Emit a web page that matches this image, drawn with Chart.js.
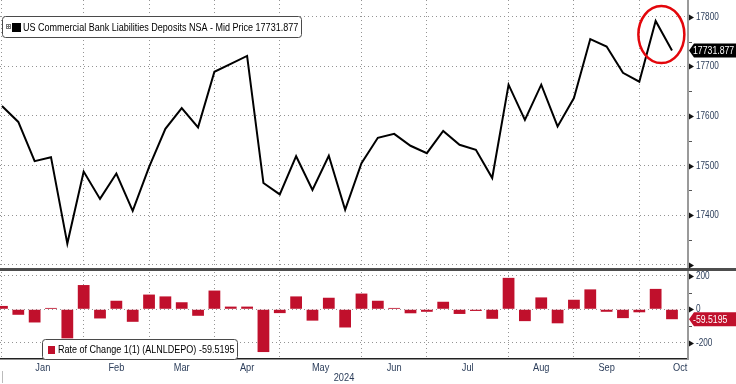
<!DOCTYPE html>
<html>
<head>
<meta charset="utf-8">
<script src="https://cdn.jsdelivr.net/npm/chart.js@4.4.1/dist/chart.umd.min.js"></script>
<style>
  html, body { margin: 0; padding: 0; background: #fff; }
  #wrap { position: relative; width: 736px; height: 384px; }
</style>
</head>
<body>
<div id="wrap"><canvas id="chart" width="736" height="384"></canvas></div>
<script>
// Weekly observations (Wednesdays), 2024
const weeks = [
  '2024-01-03', '2024-01-10', '2024-01-17', '2024-01-24', '2024-01-31',
  '2024-02-07', '2024-02-14', '2024-02-21', '2024-02-28',
  '2024-03-06', '2024-03-13', '2024-03-20', '2024-03-27',
  '2024-04-03', '2024-04-10', '2024-04-17', '2024-04-24',
  '2024-05-01', '2024-05-08', '2024-05-15', '2024-05-22', '2024-05-29',
  '2024-06-05', '2024-06-12', '2024-06-19', '2024-06-26',
  '2024-07-03', '2024-07-10', '2024-07-17', '2024-07-24', '2024-07-31',
  '2024-08-07', '2024-08-14', '2024-08-21', '2024-08-28',
  '2024-09-04', '2024-09-11', '2024-09-18', '2024-09-25',
  '2024-10-02', '2024-10-09', '2024-10-16'
];

// Deposits NSA, billions
const deposits = [
  17620, 17588, 17509, 17517, 17343,
  17488, 17433, 17484, 17409,
  17497, 17574, 17616, 17577,
  17689, 17705, 17721, 17465,
  17442, 17519, 17451, 17520, 17411,
  17505, 17556, 17564, 17540,
  17525, 17570, 17542, 17532, 17475,
  17663, 17592, 17663, 17579,
  17636, 17755, 17740, 17687,
  17669, 17791.4, 17731.877
];

// Rate of change 1(1)
const changes = [
  20, -33, -79, 8, -174,
  145, -55, 51, -75,
  88, 77, 42, -39,
  112, 16, 16, -256,
  -23, 77, -68, 69, -109,
  94, 51, 8, -24,
  -15, 45, -28, -10, -57,
  188, -71, 71, -84,
  57, 119, -15, -53,
  -18, 122, -59.5195
];

const monthNames = ['Jan', 'Feb', 'Mar', 'Apr', 'May', 'Jun', 'Jul', 'Aug', 'Sep', 'Oct'];
// week index where each month starts / where the next one starts
const monthStarts = [0, 5, 9, 13, 17, 22, 26, 31, 35, 39];
const monthEnds = [5, 9, 13, 17, 22, 26, 31, 35, 39, 44];
const depositTicks = [17300, 17400, 17500, 17600, 17700, 17800];
const changeTicks = [-200, 0, 200];

const lastDeposit = deposits[deposits.length - 1];
const lastChange = changes[changes.length - 1];

const FONT = '"Liberation Sans", Arial, sans-serif';
const TICK_COLOR = '#2b3d5a';
const GRID_COLOR = '#949494';
const BAR_COLOR = '#c0102c';

// the terminal font is narrow, so squeeze text horizontally
function narrowText(ctx, text, x, y, size, color, align, squeeze) {
  ctx.save();
  ctx.font = size + 'px ' + FONT;
  ctx.fillStyle = color;
  ctx.textBaseline = 'middle';
  ctx.textAlign = align || 'left';
  ctx.translate(x, y);
  ctx.scale(squeeze || 0.9, 1);
  ctx.fillText(text, 0, 0);
  ctx.restore();
}

function drawValueTag(ctx, y, text, fill) {
  ctx.save();
  ctx.fillStyle = fill;
  ctx.beginPath();
  ctx.moveTo(689, y);
  ctx.lineTo(694, y - 7);
  ctx.lineTo(736, y - 7);
  ctx.lineTo(736, y + 7);
  ctx.lineTo(694, y + 7);
  ctx.closePath();
  ctx.fill();
  ctx.restore();
  narrowText(ctx, text, 693, y + 0.5, 10.5, '#fff', 'left', 0.83);
}

function drawLegendBox(ctx, x, y, w, h) {
  ctx.save();
  ctx.fillStyle = '#fff';
  ctx.strokeStyle = '#4a4a4a';
  ctx.lineWidth = 1;
  ctx.beginPath();
  ctx.roundRect(x, y, w, h, 3);
  ctx.fill();
  ctx.stroke();
  ctx.restore();
}

const decorPlugin = {
  id: 'decor',
  afterDatasetsDraw(chart) {
    const ctx = chart.ctx;
    const xs = chart.scales.x;
    const ys = chart.scales.y;
    const y2 = chart.scales.y2;

    // pane separator
    ctx.save();
    ctx.fillStyle = '#4d4d4d';
    ctx.fillRect(0, y2.top, 736, 3);
    ctx.restore();

    // tick markers + labels on the right axis
    ctx.save();
    ctx.fillStyle = '#111';
    ctx.strokeStyle = '#555';
    ctx.lineWidth = 1;
    [[ys, depositTicks, 50], [y2, changeTicks, 100]].forEach(([s, ticks, step]) => {
      ticks.forEach(v => {
        const py = Math.round(s.getPixelForValue(v)) + 0.5;
        ctx.beginPath();
        ctx.moveTo(689, py - 3);
        ctx.lineTo(694, py);
        ctx.lineTo(689, py + 3);
        ctx.closePath();
        ctx.fill();
        const minor = s.getPixelForValue(v + step);
        if (minor > s.top + 2 && minor < s.bottom - 2 && !ticks.includes(v + step)) {
          ctx.beginPath();
          ctx.moveTo(689, Math.round(minor) + 0.5);
          ctx.lineTo(692, Math.round(minor) + 0.5);
          ctx.stroke();
        }
        if (v !== 17300) {
          narrowText(ctx, String(v), 696, py, 10, TICK_COLOR, 'left', 0.82);
        }
      });
    });
    ctx.restore();

    // last value tags
    drawValueTag(ctx, ys.getPixelForValue(lastDeposit), lastDeposit.toFixed(3), '#000');
    drawValueTag(ctx, y2.getPixelForValue(lastChange), lastChange.toFixed(4), BAR_COLOR);

    // top legend
    drawLegendBox(ctx, 2.5, 16.5, 299, 21);
    ctx.save();
    ctx.strokeStyle = '#777';
    ctx.lineWidth = 1;
    ctx.strokeRect(6.5, 24.5, 4, 4);
    ctx.beginPath();
    ctx.moveTo(7, 26.5); ctx.lineTo(10, 26.5);
    ctx.moveTo(8.5, 25); ctx.lineTo(8.5, 28);
    ctx.stroke();
    ctx.fillStyle = '#000';
    ctx.fillRect(12, 23, 9, 9);
    ctx.restore();
    narrowText(ctx, 'US Commercial Bank Liabilities Deposits NSA - Mid Price ' + lastDeposit.toFixed(3),
      23, 27.5, 11, '#000', 'left', 0.82);

    // bottom legend
    drawLegendBox(ctx, 42.5, 339.5, 195, 20);
    ctx.save();
    ctx.fillStyle = BAR_COLOR;
    ctx.fillRect(48, 346, 7, 8);
    ctx.restore();
    narrowText(ctx, 'Rate of Change 1(1) (ALNLDEPO) ' + lastChange.toFixed(4),
      58, 350, 11, '#000', 'left', 0.82);

    // red circle around the latest peak
    const cx = xs.getPixelForValue(40.35);
    const cy = ys.getPixelForValue(17764);
    ctx.save();
    ctx.strokeStyle = '#e3060b';
    ctx.lineWidth = 2.5;
    ctx.beginPath();
    ctx.ellipse(cx, cy, 23, 28.5, 0, 0, Math.PI * 2);
    ctx.stroke();
    ctx.restore();
  },
  afterDraw(chart) {
    const ctx = chart.ctx;
    const xs = chart.scales.x;
    monthNames.forEach((m, i) => {
      const px = xs.getPixelForValue((monthStarts[i] + monthEnds[i]) / 2);
      narrowText(ctx, m, px, 367.5, 11, TICK_COLOR, 'center', 0.84);
    });
    narrowText(ctx, '2024', (xs.left + xs.right) / 2, 377.5, 11, TICK_COLOR, 'center', 0.84);
    // year boundary marker
    ctx.save();
    ctx.strokeStyle = '#bbb';
    ctx.lineWidth = 1;
    const yx = Math.round(xs.getPixelForValue(monthStarts[0])) + 0.5;
    ctx.beginPath();
    ctx.moveTo(yx, 371);
    ctx.lineTo(yx, 383);
    ctx.stroke();
    ctx.restore();
  }
};

const linePoints = deposits.map((v, i) => ({ x: i, y: v }));
const barPoints = changes.map((v, i) => ({ x: i, y: v }));

new Chart(document.getElementById('chart'), {
  data: {
    labels: weeks,
    datasets: [
      {
        type: 'line',
        data: linePoints,
        xAxisID: 'x',
        yAxisID: 'y',
        borderColor: '#000',
        borderWidth: 2,
        pointRadius: 0,
        tension: 0,
        order: 1
      },
      {
        type: 'bar',
        data: barPoints,
        xAxisID: 'x',
        yAxisID: 'y2',
        backgroundColor: BAR_COLOR,
        borderWidth: 0,
        barPercentage: 0.72,
        categoryPercentage: 1,
        order: 2
      }
    ]
  },
  options: {
    responsive: false,
    animation: false,
    devicePixelRatio: 1,
    layout: { padding: 0 },
    plugins: { legend: { display: false }, tooltip: { enabled: false } },
    scales: {
      x: {
        type: 'linear',
        position: 'bottom',
        offset: false,
        min: -0.12,
        max: 41.98,
        afterBuildTicks: s => { s.ticks = monthStarts.map(v => ({ value: v })); },
        afterFit: s => { s.height = 25; },
        ticks: { display: false },
        grid: { color: GRID_COLOR, lineWidth: 1, drawTicks: false, offset: false },
        border: { display: true, color: '#222', width: 1.5, dash: [1, 3] }
      },
      y: {
        type: 'linear',
        position: 'right',
        stack: 'panes',
        stackWeight: 268,
        min: 17293.8,
        max: 17833.6,
        afterBuildTicks: s => { s.ticks = depositTicks.map(v => ({ value: v })); },
        afterFit: s => { s.width = 48; },
        ticks: { display: false },
        grid: { color: GRID_COLOR, lineWidth: 1, drawTicks: false },
        border: { display: true, color: '#9a9a9a', width: 2, dash: [1, 3] }
      },
      y2: {
        type: 'linear',
        position: 'right',
        stack: 'panes',
        stackWeight: 91,
        min: -297.6,
        max: 247,
        afterBuildTicks: s => { s.ticks = changeTicks.map(v => ({ value: v })); },
        afterFit: s => { s.width = 48; },
        ticks: { display: false },
        grid: { color: GRID_COLOR, lineWidth: 1, drawTicks: false },
        border: { display: true, color: '#9a9a9a', width: 2, dash: [1, 3] }
      }
    }
  },
  plugins: [decorPlugin]
});
</script>
</body>
</html>
